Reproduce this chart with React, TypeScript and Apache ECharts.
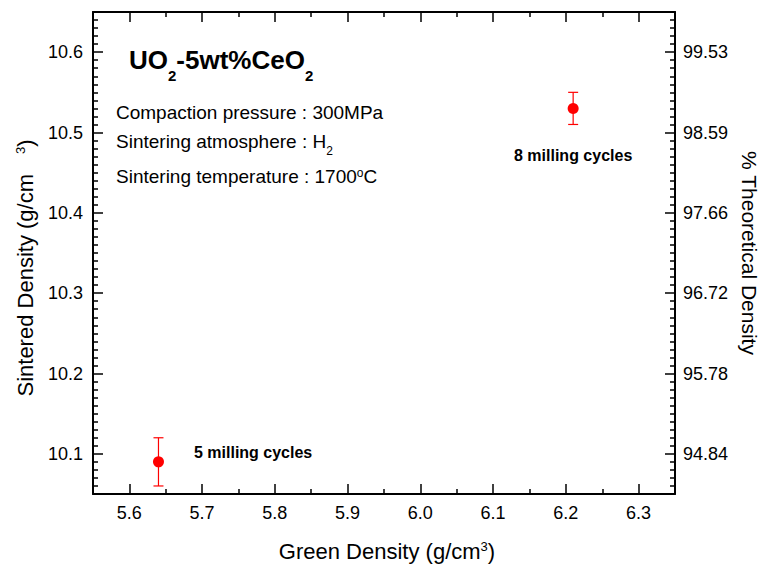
import React, { useEffect, useRef } from "react";
import * as echarts from "echarts";

// ---- data ----
const greenDensity = [5.64, 6.21];
const sinteredDensity = [10.09, 10.53];
const errorLow = [10.06, 10.51];
const errorHigh = [10.12, 10.55];
const pointLabels = ["5 milling cycles", "8 milling cycles"];
const xRange = [5.55, 6.35];
const yRange = [10.05, 10.65];
const leftTickValues = [10.1, 10.2, 10.3, 10.4, 10.5, 10.6];
const rightTickLabels = ["94.84", "95.78", "96.72", "97.66", "98.59", "99.53"];
const conditionLines = [
  "{n|Compaction pressure : 300MPa}",
  "{n|Sintering atmosphere : H}{s|2}",
  "{n|Sintering temperature : 1700}{p|o}{n|C}",
];

const FONT = "'Liberation Sans', Arial, Helvetica, sans-serif";
const BLACK = "#000000";
const RED = "#ff0000";

function makeAxis(extra: any) {
  return {
    type: "value",
    scale: true,
    axisLine: { show: true, onZero: false, lineStyle: { color: BLACK, width: 2 } },
    axisTick: { show: true, inside: true, length: 10, lineStyle: { color: BLACK, width: 1.5 } },
    minorTick: { show: true, length: 5, lineStyle: { color: BLACK, width: 1.5 } },
    splitLine: { show: false },
    minorSplitLine: { show: false },
    ...extra,
  };
}

const labelBase = {
  color: BLACK,
  fontSize: 18,
  fontFamily: FONT,
  showMinLabel: false,
  showMaxLabel: false,
};

function findTick(v: number) {
  return leftTickValues.findIndex((t) => Math.abs(t - v) < 1e-6);
}

export default function App() {
  const ref = useRef<HTMLDivElement>(null);

  useEffect(() => {
    document.body.style.margin = "0";
    if (!ref.current) return;
    const chart = echarts.init(ref.current, null, { renderer: "svg" });

    const option: any = {
      animation: false,
      backgroundColor: "#ffffff",
      textStyle: { fontFamily: FONT },
      grid: { left: 93, right: 86, top: 12, bottom: 80, containLabel: false, outerBoundsMode: "none" },
      xAxis: [
        makeAxis({
          position: "bottom",
          min: xRange[0],
          max: xRange[1],
          splitNumber: 8,
          minorTick: { show: true, splitNumber: 2, length: 5, lineStyle: { color: BLACK, width: 1.5 } },
          axisLabel: {
            ...labelBase,
            margin: 10,
            formatter: (v: number) => v.toFixed(1),
          },
          name: "{n|Green Density (g/cm}{p|3}{n|)}",
          nameLocation: "middle",
          nameGap: 46,
          nameTextStyle: {
            padding: [0, 0, 0, 6],
            rich: {
              n: { fontSize: 22, fontFamily: FONT, color: BLACK, lineHeight: 23, verticalAlign: "top" },
              p: { fontSize: 13, fontFamily: FONT, color: BLACK, lineHeight: 13, verticalAlign: "top" },
            },
          },
        }),
        makeAxis({
          position: "top",
          min: xRange[0],
          max: xRange[1],
          splitNumber: 8,
          minorTick: { show: true, splitNumber: 2, length: 5, lineStyle: { color: BLACK, width: 1.5 } },
          axisLabel: { show: false },
        }),
      ],
      yAxis: [
        makeAxis({
          position: "left",
          min: yRange[0],
          max: yRange[1],
          splitNumber: 6,
          minorTick: { show: true, splitNumber: 10, length: 5, lineStyle: { color: BLACK, width: 1.5 } },
          axisLabel: {
            ...labelBase,
            margin: 10,
            formatter: (v: number) => (findTick(v) >= 0 ? v.toFixed(1) : ""),
          },
          name: "{n|Sintered Density (g/cm}{g| }{p|3}{n|)}{e| }",
          nameLocation: "middle",
          nameRotate: 90,
          nameGap: 56,
          nameTextStyle: {
            rich: {
              n: { fontSize: 22, fontFamily: FONT, color: BLACK, lineHeight: 23, verticalAlign: "top" },
              g: { fontSize: 22, fontFamily: FONT, width: 20, lineHeight: 23, verticalAlign: "top" },
              e: { fontSize: 22, fontFamily: FONT, width: 30, lineHeight: 23, verticalAlign: "top" },
              p: { fontSize: 13, fontFamily: FONT, color: BLACK, lineHeight: 13, verticalAlign: "top" },
            },
          },
        }),
        makeAxis({
          position: "right",
          min: yRange[0],
          max: yRange[1],
          splitNumber: 6,
          minorTick: { show: true, splitNumber: 10, length: 5, lineStyle: { color: BLACK, width: 1.5 } },
          axisLabel: {
            ...labelBase,
            margin: 8,
            formatter: (v: number) => {
              const i = findTick(v);
              return i >= 0 ? rightTickLabels[i] : "";
            },
          },
          name: "% Theoretical Density",
          nameLocation: "middle",
          nameRotate: -90,
          nameGap: 57,
          nameTextStyle: { fontSize: 21, fontFamily: FONT, color: BLACK },
        }),
      ],
      series: [
        {
          type: "custom",
          xAxisIndex: 0,
          yAxisIndex: 0,
          data: greenDensity.map((x, i) => [x, errorLow[i], errorHigh[i]]),
          encode: { x: 0, y: [1, 2] },
          z: 2,
          renderItem: (params: any, api: any) => {
            const x = api.value(0);
            const lo = api.coord([x, api.value(1)]);
            const hi = api.coord([x, api.value(2)]);
            const cap = 5;
            const style = { stroke: RED, lineWidth: 1.2, fill: null };
            return {
              type: "group",
              children: [
                { type: "line", shape: { x1: lo[0], y1: lo[1], x2: hi[0], y2: hi[1] }, style },
                { type: "line", shape: { x1: lo[0] - cap, y1: lo[1], x2: lo[0] + cap, y2: lo[1] }, style },
                { type: "line", shape: { x1: hi[0] - cap, y1: hi[1], x2: hi[0] + cap, y2: hi[1] }, style },
              ],
            };
          },
        },
        {
          type: "scatter",
          xAxisIndex: 0,
          yAxisIndex: 0,
          symbol: "circle",
          symbolSize: 11,
          z: 3,
          itemStyle: { color: RED, opacity: 1 },
          data: greenDensity.map((x, i) => ({
            value: [x, sinteredDensity[i]],
            label: {
              show: true,
              formatter: pointLabels[i],
              position: i === 0 ? "right" : "bottom",
              distance: i === 0 ? 30 : 34,
              offset: i === 0 ? [0, -9] : [0, 0],
              fontSize: 16,
              fontWeight: "bold",
              fontFamily: FONT,
              color: BLACK,
              opacity: 1,
            },
          })),
        },
      ],
      graphic: [
        {
          type: "text",
          left: 129,
          top: 47,
          style: {
            text: "{n|UO}{s|2}{n|-5wt%CeO}{s|2}",
            rich: {
              n: { fontSize: 26, fontWeight: "bold", fontFamily: FONT, fill: BLACK, lineHeight: 29, verticalAlign: "top" },
              s: { fontSize: 15, fontWeight: "bold", fontFamily: FONT, fill: BLACK, lineHeight: 15, padding: [21, 0, 0, 0], verticalAlign: "top" },
            },
          },
        },
        ...conditionLines.map((t, i) => ({
          type: "text",
          left: 116,
          top: [103, 132, 167][i],
          style: {
            text: t,
            rich: {
              n: { fontSize: 19, fontFamily: FONT, fill: BLACK, lineHeight: 19, verticalAlign: "top" },
              s: { fontSize: 12, fontFamily: FONT, fill: BLACK, lineHeight: 12, padding: [13, 0, 0, 0], verticalAlign: "top" },
              p: { fontSize: 12, fontFamily: FONT, fill: BLACK, lineHeight: 12, verticalAlign: "top" },
            },
          },
        })),
      ],
    };

    chart.setOption(option);
    return () => chart.dispose();
  }, []);

  return <div ref={ref} style={{ width: 761, height: 574 }} />;
}
